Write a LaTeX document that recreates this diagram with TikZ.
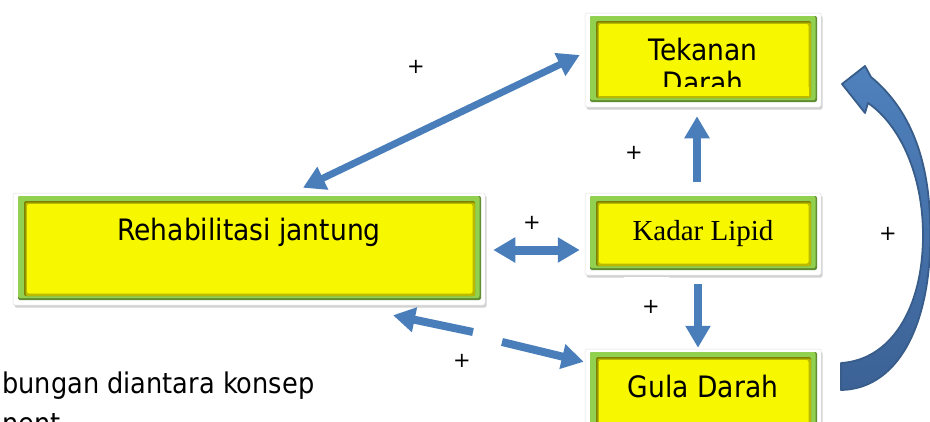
\documentclass[tikz,border=0pt]{standalone}
\usepackage{fontspec}
\newfontfamily\tah[FakeStretch=0.9]{DejaVu Sans}
\newfontfamily\dvs{DejaVu Sans}
\newfontfamily\tnr{Liberation Serif}
\usetikzlibrary{arrows.meta,calc,shadows}
\definecolor{boxgreen}{RGB}{146,208,80}
\definecolor{gdark}{RGB}{96,140,50}
\definecolor{olivedark}{RGB}{128,128,0}
\definecolor{olivelight}{RGB}{185,185,0}
\definecolor{boxyellow}{RGB}{247,247,0}
\definecolor{arrowblue}{RGB}{74,126,187}
\definecolor{curvetop}{RGB}{79,129,189}
\definecolor{curvebot}{RGB}{60,98,150}
\definecolor{curveline}{RGB}{56,93,138}
\tikzset{
  cbox/.style={rectangle, inner sep=0pt, fill=white, draw=black!12, line width=0.5pt,
    rounded corners=2pt, anchor=base, font=\tah\fontsize{29.5}{33.5}\selectfont,
    drop shadow={shadow xshift=1.5pt, shadow yshift=-2.5pt, opacity=0.3, fill=black!60},
    path picture={
      \coordinate (pNW) at (path picture bounding box.north west);
      \coordinate (pSE) at (path picture bounding box.south east);
      \fill[gdark] ($(pNW)+(5pt,-3pt)$) rectangle ($(pSE)+(-4pt,5pt)$);
      \fill[boxgreen] ($(pNW)+(5pt,-3pt)$) rectangle ($(pSE)+(-5.5pt,7pt)$);
      \fill[olivedark] ($(pNW)+(11pt,-8pt)$) rectangle ($(pSE)+(-10pt,9pt)$);
      \fill[olivelight] ($(pNW)+(12.5pt,-9.5pt)$) rectangle ($(pSE)+(-10pt,9pt)$);
      \fill[boxyellow] ($(pNW)+(14pt,-11pt)$) rectangle ($(pSE)+(-12.5pt,11.5pt)$);
    }},
  plus/.style={font=\dvs\fontsize{21}{25}\selectfont, inner sep=0pt},
  blarrow/.style={draw=arrowblue, line width=8pt, >={Triangle[length=22pt,width=24pt]}},
}
\begin{document}
\begin{tikzpicture}[x=1pt,y=-1pt]
\useasboundingbox (0,0) rectangle (930,421);
\clip (0,0) rectangle (930,421);

% boxes
\node[cbox, minimum width=236pt, text height=47pt, text depth=47pt] (tek) at (703,60)
  {\begin{tabular}[t]{@{}c@{}}Tekanan\\Darah\end{tabular}};
\fill[boxyellow] ($(tek.south west)+(14,-20)$) rectangle ($(tek.south east)+(-12.5,-11.5)$);

\node[cbox, minimum width=472pt, text height=47pt, text depth=65pt] (rehab) at (249,240)
  {Rehabilitasi jantung};
\node[cbox, minimum width=236pt, text height=47pt, text depth=35pt,
  font=\tnr\fontsize{29}{34}\selectfont] (kadar) at (703,240) {Kadar Lipid};
\node[cbox, minimum width=236pt, text height=48pt, text depth=43pt] (gula) at (703,397)
  {Gula Darah};

% straight arrows
\draw[blarrow, line width=7pt, <->] ($(rehab.north)+(54,-5)$) -- ($(tek.west)+(-5,-5)$);
\draw[blarrow, line width=9pt, <->] ($(rehab.east)+(8,1)$) -- ($(kadar.west)+(-5,16)$);
\draw[blarrow, ->] ($(kadar.north)+(-6,-11)$) -- ($(tek.south)+(-6,9)$);
\draw[blarrow, ->] ($(kadar.south)+(-5,9)$) -- ($(gula.north)+(-5,-1)$);
\coordinate (gl) at (473,332);
\coordinate (gr) at (502,342);
\draw[blarrow, ->] (gl) -- ($(rehab.south)+(144,10)$);
\draw[blarrow, ->] (gr) -- ($(gula.north west)+(-1,13)$);

% curved block arrow from Gula Darah to Tekanan Darah
\path[draw=curveline, line width=1.8pt, line join=round, top color=curvetop, bottom color=curvebot]
  (841,390) .. controls (900,389) and (934,320) .. (930,220)
  .. controls (928,150) and (905,105) .. (871,77)
  -- (865,66) -- (842,84) -- (865,113) -- (868,103)
  .. controls (900,125) and (923,175) .. (923,235)
  .. controls (923,310) and (890,360) .. (841,363) -- cycle;

% plus labels
\node[plus] (p1) at (416,67) {+};
\node[plus] (p2) at (634,153) {+};
\node[plus] (p3) at (532,223) {+};
\node[plus, fill=white, minimum width=45pt, minimum height=70pt] (p4) at (646.5,312)
  {\raisebox{10pt}{\hspace*{9pt}+}};
\node[plus] (p5) at (462,361) {+};
\node[plus] (p6) at (888,234) {+};

% caption fragment
\node[anchor=base west, inner sep=0pt, font=\tah\fontsize{28.5}{40}\selectfont] (cap) at (2,393)
  {\begin{tabular}[t]{@{}l@{}}bungan diantara konsep\\nent\end{tabular}};
\end{tikzpicture}
\end{document}
